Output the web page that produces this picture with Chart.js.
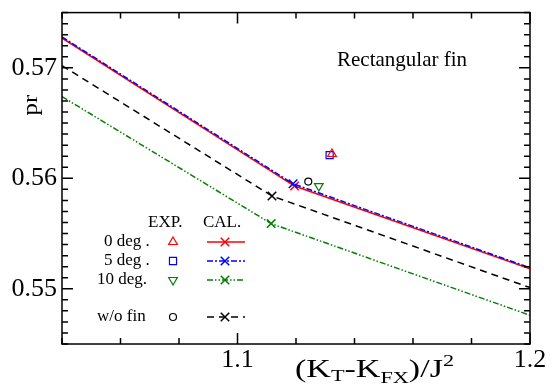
<!DOCTYPE html>
<html>
<head>
<meta charset="utf-8">
<script src="https://cdn.jsdelivr.net/npm/chart.js@4.4.1/dist/chart.umd.min.js"></script>
<style>
  body { margin: 0; background: #fff; }
  #wrap { width: 551px; height: 392px; }
</style>
</head>
<body>
<div id="wrap"><canvas id="myChartPr"></canvas></div>
<script>
// calculated curves (x = (KT-KFX)/J^2, y = pr)
var calX0 = [1.04, 1.1195, 1.2];
var calY0 = [0.5727, 0.5593, 0.5518];
var calX5 = [1.04, 1.119, 1.2];
var calY5 = [0.5728, 0.5595, 0.5519];
var calX10 = [1.04, 1.1115, 1.2];
var calY10 = [0.5674, 0.5559, 0.5476];
var calXwo = [1.04, 1.1118, 1.2];
var calYwo = [0.5702, 0.5584, 0.5501];
var calMarker = [0, 6, 0];

// experiments
var expLabels = ['0 deg .', '5 deg .', '10 deg.', 'w/o fin'];
var expX = [1.1323, 1.1315, 1.1278, 1.1242];
var expY = [0.5622, 0.5621, 0.5593, 0.5597];

// axes
var xMin = 1.04, xMax = 1.2;
var yMin = 0.545, yMax = 0.575;
var xMajor = [1.1, 1.2];
var yMajor = [0.55, 0.56, 0.57];

function pts(xs, ys) {
    return xs.map(function (x, i) { return { x: x, y: ys[i] }; });
}

function isMajor(list, v) {
    for (var i = 0; i < list.length; i++) {
        if (Math.abs(list[i] - v) < 1e-6) return true;
    }
    return false;
}

var serif = '"Liberation Serif", "DejaVu Serif", serif';

function drawFrame(chart) {
    var ctx = chart.ctx, a = chart.chartArea;
    var sx = chart.scales.x, sy = chart.scales.y;
    ctx.save();
    ctx.strokeStyle = '#000';
    ctx.lineWidth = 1.5;
    ctx.setLineDash([]);
    ctx.strokeRect(a.left, a.top, a.right - a.left, a.bottom - a.top);
    ctx.beginPath();
    // x ticks every 0.02, long at majors
    for (var k = 0; k <= 8; k++) {
        var v = xMin + k * 0.02;
        var px = sx.getPixelForValue(v);
        var len = isMajor(xMajor, v) ? 11 : 6;
        ctx.moveTo(px, a.bottom); ctx.lineTo(px, a.bottom - len);
        ctx.moveTo(px, a.top); ctx.lineTo(px, a.top + len);
    }
    // y ticks every 0.001
    for (var j = 0; j <= 30; j++) {
        var w = yMin + j * 0.001;
        var py = sy.getPixelForValue(w);
        var l2 = isMajor(yMajor, w) ? 11 : 6;
        ctx.moveTo(a.left, py); ctx.lineTo(a.left + l2, py);
        ctx.moveTo(a.right, py); ctx.lineTo(a.right - l2, py);
    }
    ctx.stroke();
    ctx.restore();
}

var framePlugin = {
    id: 'frame',
    afterDraw: function (chart) {
        drawFrame(chart);
        var ctx = chart.ctx;
        ctx.save();
        ctx.fillStyle = '#000';
        ctx.textBaseline = 'alphabetic';

        // title inside
        ctx.font = '21px ' + serif;
        ctx.fillText('Rectangular fin', 337, 66);

        // y title "pr"
        ctx.save();
        ctx.translate(37, 105);
        ctx.rotate(-Math.PI / 2);
        ctx.font = '20px ' + serif;
        ctx.scale(1.25, 1);
        ctx.textAlign = 'center';
        ctx.fillText('pr', 0, 0);
        ctx.restore();

        // x title (KT-KFX)/J^2
        var parts = [
            { t: '(K', f: 26, dy: 0 },
            { t: 'T', f: 17, dy: 4 },
            { t: '-K', f: 26, dy: 0 },
            { t: 'FX', f: 17, dy: 6 },
            { t: ')/J', f: 26, dy: 0 },
            { t: '2', f: 17, dy: -11 }
        ];
        var tot = 0;
        parts.forEach(function (p) { ctx.font = p.f + 'px ' + serif; p.w = ctx.measureText(p.t).width; tot += p.w; });
        ctx.save();
        ctx.translate(295, 377);
        ctx.scale(159 / tot, 1);
        var cx = 0;
        parts.forEach(function (p) {
            ctx.font = p.f + 'px ' + serif;
            ctx.fillText(p.t, cx, p.dy);
            cx += p.w;
        });
        ctx.restore();

        // legend
        ctx.font = '17px ' + serif;
        ctx.textBaseline = 'middle';
        ctx.fillText('EXP.', 148, 223);
        ctx.fillText('CAL.', 203, 223);
        var rows = [
            { y: 242, tx: 104, c: 'red', ps: 'triangle', rot: 0, r: 5, dash: [] },
            { y: 261, tx: 104, c: 'blue', ps: 'rect', rot: 0, r: 5, dash: [6, 2, 2, 2] },
            { y: 280, tx: 97, c: '#008000', ps: 'triangle', rot: 180, r: 5, dash: [6, 2, 1.5, 2, 1.5, 2] },
            { y: 317, tx: 97, c: '#000', ps: 'circle', rot: 0, r: 3.5, dash: [7, 5] }
        ];
        rows.forEach(function (row, i) {
            ctx.fillStyle = '#000';
            ctx.fillText(expLabels[i], row.tx, row.y);
            ctx.strokeStyle = row.c;
            ctx.fillStyle = 'rgba(0,0,0,0)';
            ctx.lineWidth = 1.2;
            ctx.setLineDash([]);
            Chart.helpers.drawPoint(ctx, { pointStyle: row.ps, radius: row.r, rotation: row.rot, borderWidth: 1.2 }, 173, row.y);
            ctx.lineWidth = 1.5;
            ctx.setLineDash(row.dash);
            ctx.beginPath();
            ctx.moveTo(207, row.y); ctx.lineTo(245, row.y);
            ctx.stroke();
            ctx.setLineDash([]);
            Chart.helpers.drawPoint(ctx, { pointStyle: 'crossRot', radius: 6, rotation: 0, borderWidth: 1.5 }, 225, row.y);
        });
        ctx.restore();
    }
};

function calSet(label, xs, ys, color, dash) {
    return {
        label: label,
        data: pts(xs, ys),
        showLine: true,
        borderColor: color,
        backgroundColor: color,
        borderWidth: 1.5,
        borderDash: dash,
        pointStyle: 'crossRot',
        pointRadius: calMarker,
        pointBorderWidth: 1.5,
        pointBorderColor: color
    };
}

function expSet(i, color, style, rot, r) {
    return {
        label: 'EXP ' + expLabels[i],
        data: [{ x: expX[i], y: expY[i] }],
        showLine: false,
        pointStyle: style,
        rotation: rot,
        pointRadius: r,
        pointBorderWidth: 1.2,
        pointBorderColor: color,
        pointBackgroundColor: 'rgba(0,0,0,0)'
    };
}

var ctx = document.getElementById('myChartPr').getContext('2d');
var mychart = new Chart(ctx, {
    type: 'scatter',
    data: {
        datasets: [
            expSet(0, 'red', 'triangle', 0, 5),
            expSet(1, 'blue', 'rect', 0, 5),
            expSet(2, '#008000', 'triangle', 180, 5),
            expSet(3, '#000', 'circle', 0, 3.5),
            calSet('CAL 5 deg', calX5, calY5, 'blue', [6, 2, 2, 2]),
            calSet('CAL 0 deg', calX0, calY0, 'red', []),
            calSet('CAL w/o fin', calXwo, calYwo, '#000', [7, 5]),
            calSet('CAL 10 deg', calX10, calY10, '#008000', [6, 2, 1.5, 2, 1.5, 2])
        ]
    },
    options: {
        responsive: true,
        maintainAspectRatio: false,
        animation: false,
        layout: { padding: { top: 10, right: 21, left: 0, bottom: 0 } },
        plugins: { legend: { display: false }, tooltip: { enabled: false } },
        scales: {
            x: {
                type: 'linear',
                min: xMin, max: xMax,
                grid: { display: false },
                border: { display: false },
                afterBuildTicks: function (s) { s.ticks = xMajor.map(function (v) { return { value: v }; }); },
                afterFit: function (s) { s.height = 48; },
                ticks: {
                    autoSkip: false,
                    maxRotation: 0,
                    padding: -7,
                    color: '#000',
                    font: { family: serif, size: 26 },
                    callback: function (v) { return v.toFixed(1); }
                }
            },
            y: {
                type: 'linear',
                min: yMin, max: yMax,
                grid: { display: false },
                border: { display: false },
                afterBuildTicks: function (s) { s.ticks = yMajor.map(function (v) { return { value: v }; }); },
                afterFit: function (s) { s.width = 62; },
                ticks: {
                    autoSkip: false,
                    padding: -3,
                    color: '#000',
                    font: { family: serif, size: 26 },
                    callback: function (v) { return v.toFixed(2); }
                }
            }
        }
    },
    plugins: [framePlugin]
});
</script>
</body>
</html>
